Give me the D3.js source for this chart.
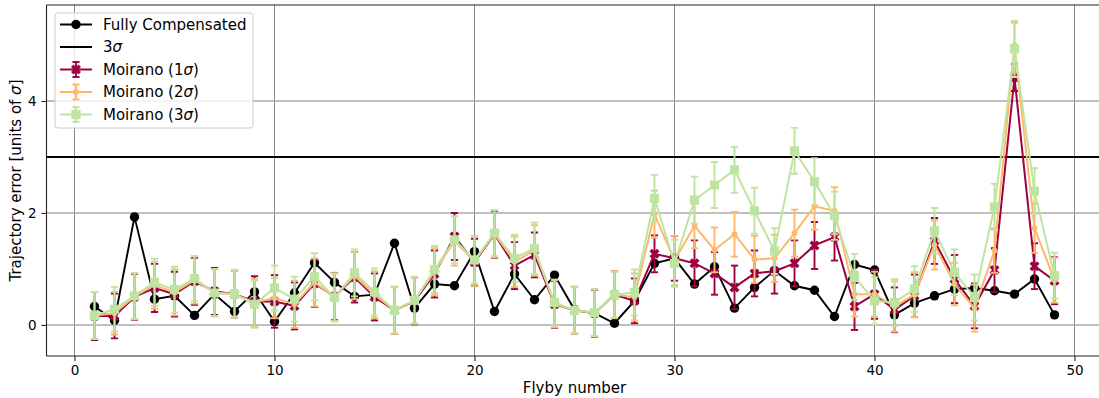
<!DOCTYPE html>
<html>
<head>
<meta charset="utf-8">
<script src="https://cdn.jsdelivr.net/npm/d3@7"></script>
<style>
  body { margin: 0; background: #fff; }
  svg { display: block; font-family: "DejaVu Sans", sans-serif; }
</style>
</head>
<body>
<svg id="chart" width="1099" height="398"></svg>
<script>
// Flyby index (x axis)
const flyby = [1,2,3,4,5,6,7,8,9,10,11,12,13,14,15,16,17,18,19,20,21,22,23,24,25,
               26,27,28,29,30,31,32,33,34,35,36,37,38,39,40,41,42,43,44,45,46,47,48,49];

// Trajectory error of the fully compensated solution
const fullyCompensated = [0.33,0.08,1.93,0.46,0.52,0.17,0.55,0.24,0.59,0.06,0.57,1.11,0.76,0.51,0.54,1.46,0.30,0.73,0.70,1.31,
                          0.24,0.91,0.45,0.89,0.27,0.21,0.03,0.43,1.10,1.19,0.73,1.04,0.30,0.67,0.97,0.70,0.62,0.15,1.08,0.98,
                          0.18,0.39,0.52,0.64,0.66,0.61,0.55,0.82,0.18];

// Moirano, 1 sigma
const moirano1 = [0.16,0.16,0.50,0.66,0.55,0.78,0.60,0.55,0.42,0.42,0.34,0.74,0.51,0.85,0.50,0.26,0.43,0.91,1.58,1.12,
                  1.62,1.06,1.25,0.37,0.26,0.21,0.54,0.43,1.27,1.19,1.10,0.92,0.67,0.92,0.96,1.10,1.42,1.57,0.33,0.55,
                  0.27,0.52,1.50,0.82,0.34,0.98,4.42,1.05,0.79];
const moirano1Err = [0.43,0.40,0.41,0.43,0.40,0.42,0.42,0.42,0.45,0.47,0.42,0.42,0.42,0.45,0.42,0.42,0.42,0.42,0.42,0.42,
                     0.42,0.42,0.40,0.42,0.42,0.42,0.42,0.40,0.33,0.40,0.41,0.38,0.39,0.41,0.40,0.41,0.42,0.42,0.42,0.44,
                     0.40,0.38,0.41,0.43,0.40,0.39,0.24,0.41,0.42];

// Moirano, 2 sigma
const moirano2 = [0.17,0.21,0.51,0.71,0.58,0.80,0.58,0.55,0.40,0.48,0.37,0.76,0.50,0.88,0.54,0.26,0.44,0.95,1.50,1.14,
                  1.63,1.13,1.33,0.38,0.26,0.22,0.54,0.50,1.98,1.15,1.77,1.34,1.62,1.17,1.19,1.64,2.12,2.04,0.55,0.55,
                  0.33,0.54,1.43,0.73,0.30,1.33,5.00,1.73,0.80];
const moirano2Err = [0.42,0.38,0.41,0.42,0.41,0.42,0.42,0.42,0.42,0.36,0.42,0.43,0.42,0.42,0.42,0.42,0.42,0.42,0.44,0.45,
                     0.42,0.45,0.45,0.42,0.42,0.42,0.42,0.42,0.42,0.44,0.40,0.40,0.40,0.42,0.42,0.42,0.42,0.42,0.40,0.40,
                     0.45,0.40,0.44,0.38,0.42,0.40,0.40,0.44,0.40];

// Moirano, 3 sigma
const moirano3 = [0.17,0.28,0.52,0.76,0.63,0.83,0.57,0.55,0.37,0.66,0.46,0.86,0.49,0.93,0.59,0.26,0.44,0.99,1.52,1.16,
                  1.64,1.19,1.37,0.40,0.26,0.22,0.54,0.58,2.26,1.10,2.23,2.50,2.77,2.04,1.32,3.11,2.56,1.95,0.86,0.43,
                  0.40,0.64,1.68,0.94,0.49,2.11,4.93,2.39,0.88];
const moirano3Err = [0.42,0.40,0.41,0.42,0.41,0.40,0.42,0.42,0.42,0.40,0.40,0.42,0.43,0.42,0.42,0.41,0.41,0.42,0.42,0.42,
                     0.41,0.42,0.46,0.41,0.41,0.42,0.41,0.41,0.42,0.42,0.42,0.41,0.41,0.41,0.41,0.41,0.42,0.43,0.41,0.42,
                     0.42,0.41,0.41,0.41,0.41,0.41,0.50,0.41,0.41];

const threeSigmaLevel = 3;
const xTicks = [0, 10, 20, 30, 40, 50];
const yTicks = [0, 2, 4];

const svg = d3.select("#chart");
const plot = { left: 46.5, right: 1102.5, top: 5, bottom: 356 };

const x = d3.scaleLinear().domain([-1.4, 51.4]).range([plot.left, plot.right]);
const y = d3.scaleLinear().domain([-0.555, 5.715]).range([plot.bottom, plot.top]);

svg.append("defs").append("clipPath").attr("id", "plotClip")
  .append("rect").attr("x", plot.left).attr("y", plot.top)
  .attr("width", plot.right - plot.left).attr("height", plot.bottom - plot.top);

// Grid
const grid = svg.append("g");
grid.selectAll("line.gx").data(xTicks).join("line")
  .attr("x1", d => x(d)).attr("x2", d => x(d))
  .attr("y1", plot.top).attr("y2", plot.bottom)
  .attr("stroke", "#8a8a8a").attr("stroke-width", 1);
grid.selectAll("line.gy").data(yTicks).join("line")
  .attr("x1", plot.left).attr("x2", plot.right)
  .attr("y1", d => y(d)).attr("y2", d => y(d))
  .attr("stroke", "#ababab").attr("stroke-width", 1.4);

const g = svg.append("g").attr("clip-path", "url(#plotClip)");
const line = d3.line().x(d => x(d[0])).y(d => y(d[1]));

// Fully compensated
const fc = flyby.map((f, i) => [f, fullyCompensated[i]]);
g.append("path").datum(fc).attr("d", line)
  .attr("fill", "none").attr("stroke", "#000").attr("stroke-width", 1.9);
g.selectAll("circle.fc").data(fc).join("circle")
  .attr("cx", d => x(d[0])).attr("cy", d => y(d[1])).attr("r", 4.7).attr("fill", "#000");

// 3 sigma threshold
g.append("line")
  .attr("x1", plot.left).attr("x2", plot.right)
  .attr("y1", y(threeSigmaLevel)).attr("y2", y(threeSigmaLevel))
  .attr("stroke", "#000").attr("stroke-width", 2);

const xMarker = d3.symbol().type(d3.symbolCross).size(62);
const sqMarker = d3.symbol().type(d3.symbolSquare).size(84);

function drawMarker(sel, kind, color) {
  if (kind === "x") {
    sel.append("path").attr("d", xMarker()).attr("transform", "rotate(45)").attr("fill", color);
  } else if (kind === "square") {
    sel.append("path").attr("d", sqMarker()).attr("fill", color);
  } else {
    sel.append("circle").attr("r", 2.9).attr("fill", color);
  }
}

function drawSeries(values, errs, color, kind) {
  const pts = flyby.map((f, i) => ({ f, v: values[i], e: errs[i] }));
  const eg = g.append("g").attr("stroke", color).attr("stroke-width", 1.9);
  pts.forEach(p => {
    const cx = x(p.f), y0 = y(p.v - p.e), y1 = y(p.v + p.e);
    eg.append("line").attr("x1", cx).attr("x2", cx).attr("y1", y0).attr("y2", y1);
    eg.append("line").attr("x1", cx - 3.6).attr("x2", cx + 3.6).attr("y1", y0).attr("y2", y0);
    eg.append("line").attr("x1", cx - 3.6).attr("x2", cx + 3.6).attr("y1", y1).attr("y2", y1);
  });
  g.append("path").datum(pts.map(p => [p.f, p.v])).attr("d", line)
    .attr("fill", "none").attr("stroke", color).attr("stroke-width", 2);
  pts.forEach(p => {
    const m = g.append("g").attr("transform", `translate(${x(p.f)},${y(p.v)})`);
    drawMarker(m, kind, color);
  });
}

const c1 = "#9e0142", c2 = "#fdb86a", c3 = "#bfe4a2";
drawSeries(moirano1, moirano1Err, c1, "x");
drawSeries(moirano2, moirano2Err, c2, "dot");
drawSeries(moirano3, moirano3Err, c3, "square");

// Spines
const spine = svg.append("g").attr("stroke", "#222").attr("stroke-width", 1.1).attr("fill", "none");
spine.append("line").attr("x1", plot.left).attr("x2", plot.left).attr("y1", plot.top).attr("y2", plot.bottom);
spine.append("line").attr("x1", plot.left).attr("x2", plot.right).attr("y1", plot.bottom).attr("y2", plot.bottom);
spine.append("line").attr("x1", plot.left).attr("x2", plot.right).attr("y1", plot.top).attr("y2", plot.top);

// Axes
const xAxis = svg.append("g").attr("transform", `translate(0,${plot.bottom})`)
  .call(d3.axisBottom(x).tickValues(xTicks).tickSize(5).tickPadding(4).tickFormat(d3.format("d")));
const yAxis = svg.append("g").attr("transform", `translate(${plot.left},0)`)
  .call(d3.axisLeft(y).tickValues(yTicks).tickSize(5).tickPadding(5).tickFormat(d3.format("d")));
[xAxis, yAxis].forEach(a => {
  a.select(".domain").remove();
  a.selectAll("line").attr("stroke", "#222").attr("stroke-width", 1.1);
  a.selectAll("text").attr("font-family", "DejaVu Sans").attr("font-size", 13.5).attr("fill", "#000");
});

// Axis titles
svg.append("text").attr("x", (plot.left + plot.right) / 2).attr("y", 393)
  .attr("text-anchor", "middle").attr("font-size", 15).text("Flyby number");
const yl = svg.append("text")
  .attr("transform", `translate(21,${(plot.top + plot.bottom) / 2}) rotate(-90)`)
  .attr("text-anchor", "middle").attr("font-size", 15);
yl.append("tspan").text("Trajectory error [units of ");
yl.append("tspan").attr("font-style", "italic").text("σ");
yl.append("tspan").text("]");

// Legend
const legend = svg.append("g");
legend.append("rect").attr("x", 55).attr("y", 13).attr("width", 198).attr("height", 115)
  .attr("rx", 3).attr("fill", "#fff").attr("fill-opacity", 0.8)
  .attr("stroke", "#cccccc").attr("stroke-width", 1);

const legendItems = [
  { label: ["Fully Compensated"], color: "#000", kind: "circle", err: false },
  { label: ["3", "σ", ""], color: "#000", kind: "none", err: false },
  { label: ["Moirano (1", "σ", ")"], color: c1, kind: "x", err: true },
  { label: ["Moirano (2", "σ", ")"], color: c2, kind: "dot", err: true },
  { label: ["Moirano (3", "σ", ")"], color: c3, kind: "square", err: true }
];
legendItems.forEach((it, i) => {
  const cy = 24.5 + i * 22.5;
  const row = legend.append("g").attr("transform", `translate(0,${cy})`);
  row.append("line").attr("x1", 60).attr("x2", 92).attr("y1", 0).attr("y2", 0)
    .attr("stroke", it.color).attr("stroke-width", 2);
  if (it.err) {
    const eg = row.append("g").attr("stroke", it.color).attr("stroke-width", 1.9);
    eg.append("line").attr("x1", 76).attr("x2", 76).attr("y1", -7.5).attr("y2", 7.5);
    eg.append("line").attr("x1", 72.4).attr("x2", 79.6).attr("y1", -7.5).attr("y2", -7.5);
    eg.append("line").attr("x1", 72.4).attr("x2", 79.6).attr("y1", 7.5).attr("y2", 7.5);
  }
  const m = row.append("g").attr("transform", "translate(76,0)");
  if (it.kind === "circle") m.append("circle").attr("r", 4.7).attr("fill", it.color);
  else if (it.kind !== "none") drawMarker(m, it.kind, it.color);
  const t = row.append("text").attr("x", 103).attr("y", 0).attr("dy", "0.36em")
    .attr("font-size", 15).attr("fill", "#000");
  t.append("tspan").text(it.label[0]);
  if (it.label.length > 1) {
    t.append("tspan").attr("font-style", "italic").text(it.label[1]);
    t.append("tspan").text(it.label[2]);
  }
});
</script>
</body>
</html>
